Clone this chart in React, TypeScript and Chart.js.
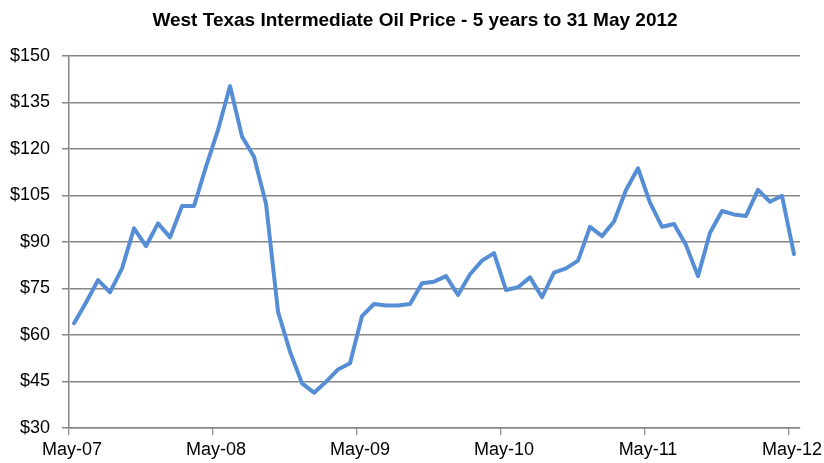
import React, { useEffect, useRef } from "react";
import { Chart, registerables } from "chart.js";

Chart.register(...registerables);

const chartTitle = "West Texas Intermediate Oil Price - 5 years to 31 May 2012";

// Monthly WTI price, May-2007 .. May-2012 (61 months)
const prices: number[] = [
  63.8, 70.5, 77.7, 73.8, 81.5, 94.4, 88.7, 96.0, 91.5, 101.6, 101.6, 114.3,
  126.2, 140.3, 124.0, 117.5, 102.3, 67.5, 54.6, 44.4, 41.4, 44.9, 48.9, 50.9,
  66.1, 70.0, 69.5, 69.5, 70.0, 76.7, 77.2, 79.0, 72.9, 79.6, 84.0, 86.4,
  74.5, 75.4, 78.6, 72.2, 80.1, 81.5, 84.0, 94.9, 91.9, 96.6, 106.8, 113.8,
  102.7, 94.9, 95.8, 89.0, 79.0, 93.0, 100.0, 98.9, 98.4, 106.8, 103.0, 104.9,
  86.1,
];

// x tick labels, one per 12 months
const yearLabels: string[] = ["May-07", "May-08", "May-09", "May-10", "May-11", "May-12"];

// each monthly observation sits at mid-month within its month slot
const midMonth = 0.42;
const monthsShown = 60.92;

const yMin = 30;
const yMax = 150;
const yStep = 15;

const font = "'Liberation Sans', Arial, sans-serif";

const titlePlugin = {
  id: "centeredTitle",
  afterDraw(chart: any) {
    const ctx = chart.ctx;
    ctx.save();
    ctx.font = `bold 19px ${font}`;
    ctx.fillStyle = "#000";
    ctx.textAlign = "center";
    ctx.textBaseline = "middle";
    ctx.fillText(chartTitle, chart.width / 2 + 3, 21);
    ctx.restore();
  },
};

export default function App() {
  const ref = useRef<HTMLCanvasElement | null>(null);

  useEffect(() => {
    document.body.style.margin = "0";
    const canvas = ref.current;
    if (!canvas) return;
    const chart = new Chart(canvas, {
      type: "line",
      data: {
        datasets: [
          {
            data: prices.map((v, i) => ({ x: i + midMonth, y: v })),
            borderColor: "#558ED5",
            borderWidth: 4,
            pointRadius: 0,
            tension: 0,
            borderJoinStyle: "round",
            borderCapStyle: "round",
            fill: false,
          },
        ],
      },
      plugins: [titlePlugin],
      options: {
        responsive: false,
        animation: false,
        layout: { padding: { left: 0, right: 24, top: 56, bottom: 0 } },
        plugins: {
          legend: { display: false },
          tooltip: { enabled: false },
          title: { display: false },
        },
        scales: {
          x: {
            type: "linear",
            min: 0,
            max: monthsShown,
            afterFit: (s: any) => {
              s.height = 35;
            },
            ticks: {
              stepSize: 12,
              includeBounds: false,
              autoSkip: false,
              maxRotation: 0,
              color: "#000",
              font: { family: font, size: 18 },
              padding: 4,
              labelOffset: 3,
              callback: (v: any) => {
                const n = Number(v);
                if (n % 12 !== 0) return "";
                return yearLabels[n / 12] ?? "";
              },
            },
            grid: {
              drawOnChartArea: false,
              drawTicks: true,
              tickLength: 7,
              color: "#868686",
              lineWidth: 1.2,
            },
            border: { display: true, color: "#868686", width: 1.5 },
          },
          y: {
            min: yMin,
            max: yMax,
            afterFit: (s: any) => {
              s.width = 69;
            },
            ticks: {
              stepSize: yStep,
              color: "#000",
              font: { family: font, size: 18 },
              padding: 12,
              callback: (v: any) => "$" + v,
            },
            grid: {
              drawTicks: true,
              tickLength: 7,
              color: "#868686",
              lineWidth: 1.5,
            },
            border: { display: true, color: "#868686", width: 1.5 },
          },
        },
      },
    });
    return () => chart.destroy();
  }, []);

  return (
    <canvas
      ref={ref}
      width={824}
      height={463}
      style={{ position: "fixed", left: 0, top: 0, width: 824, height: 463 }}
    />
  );
}
